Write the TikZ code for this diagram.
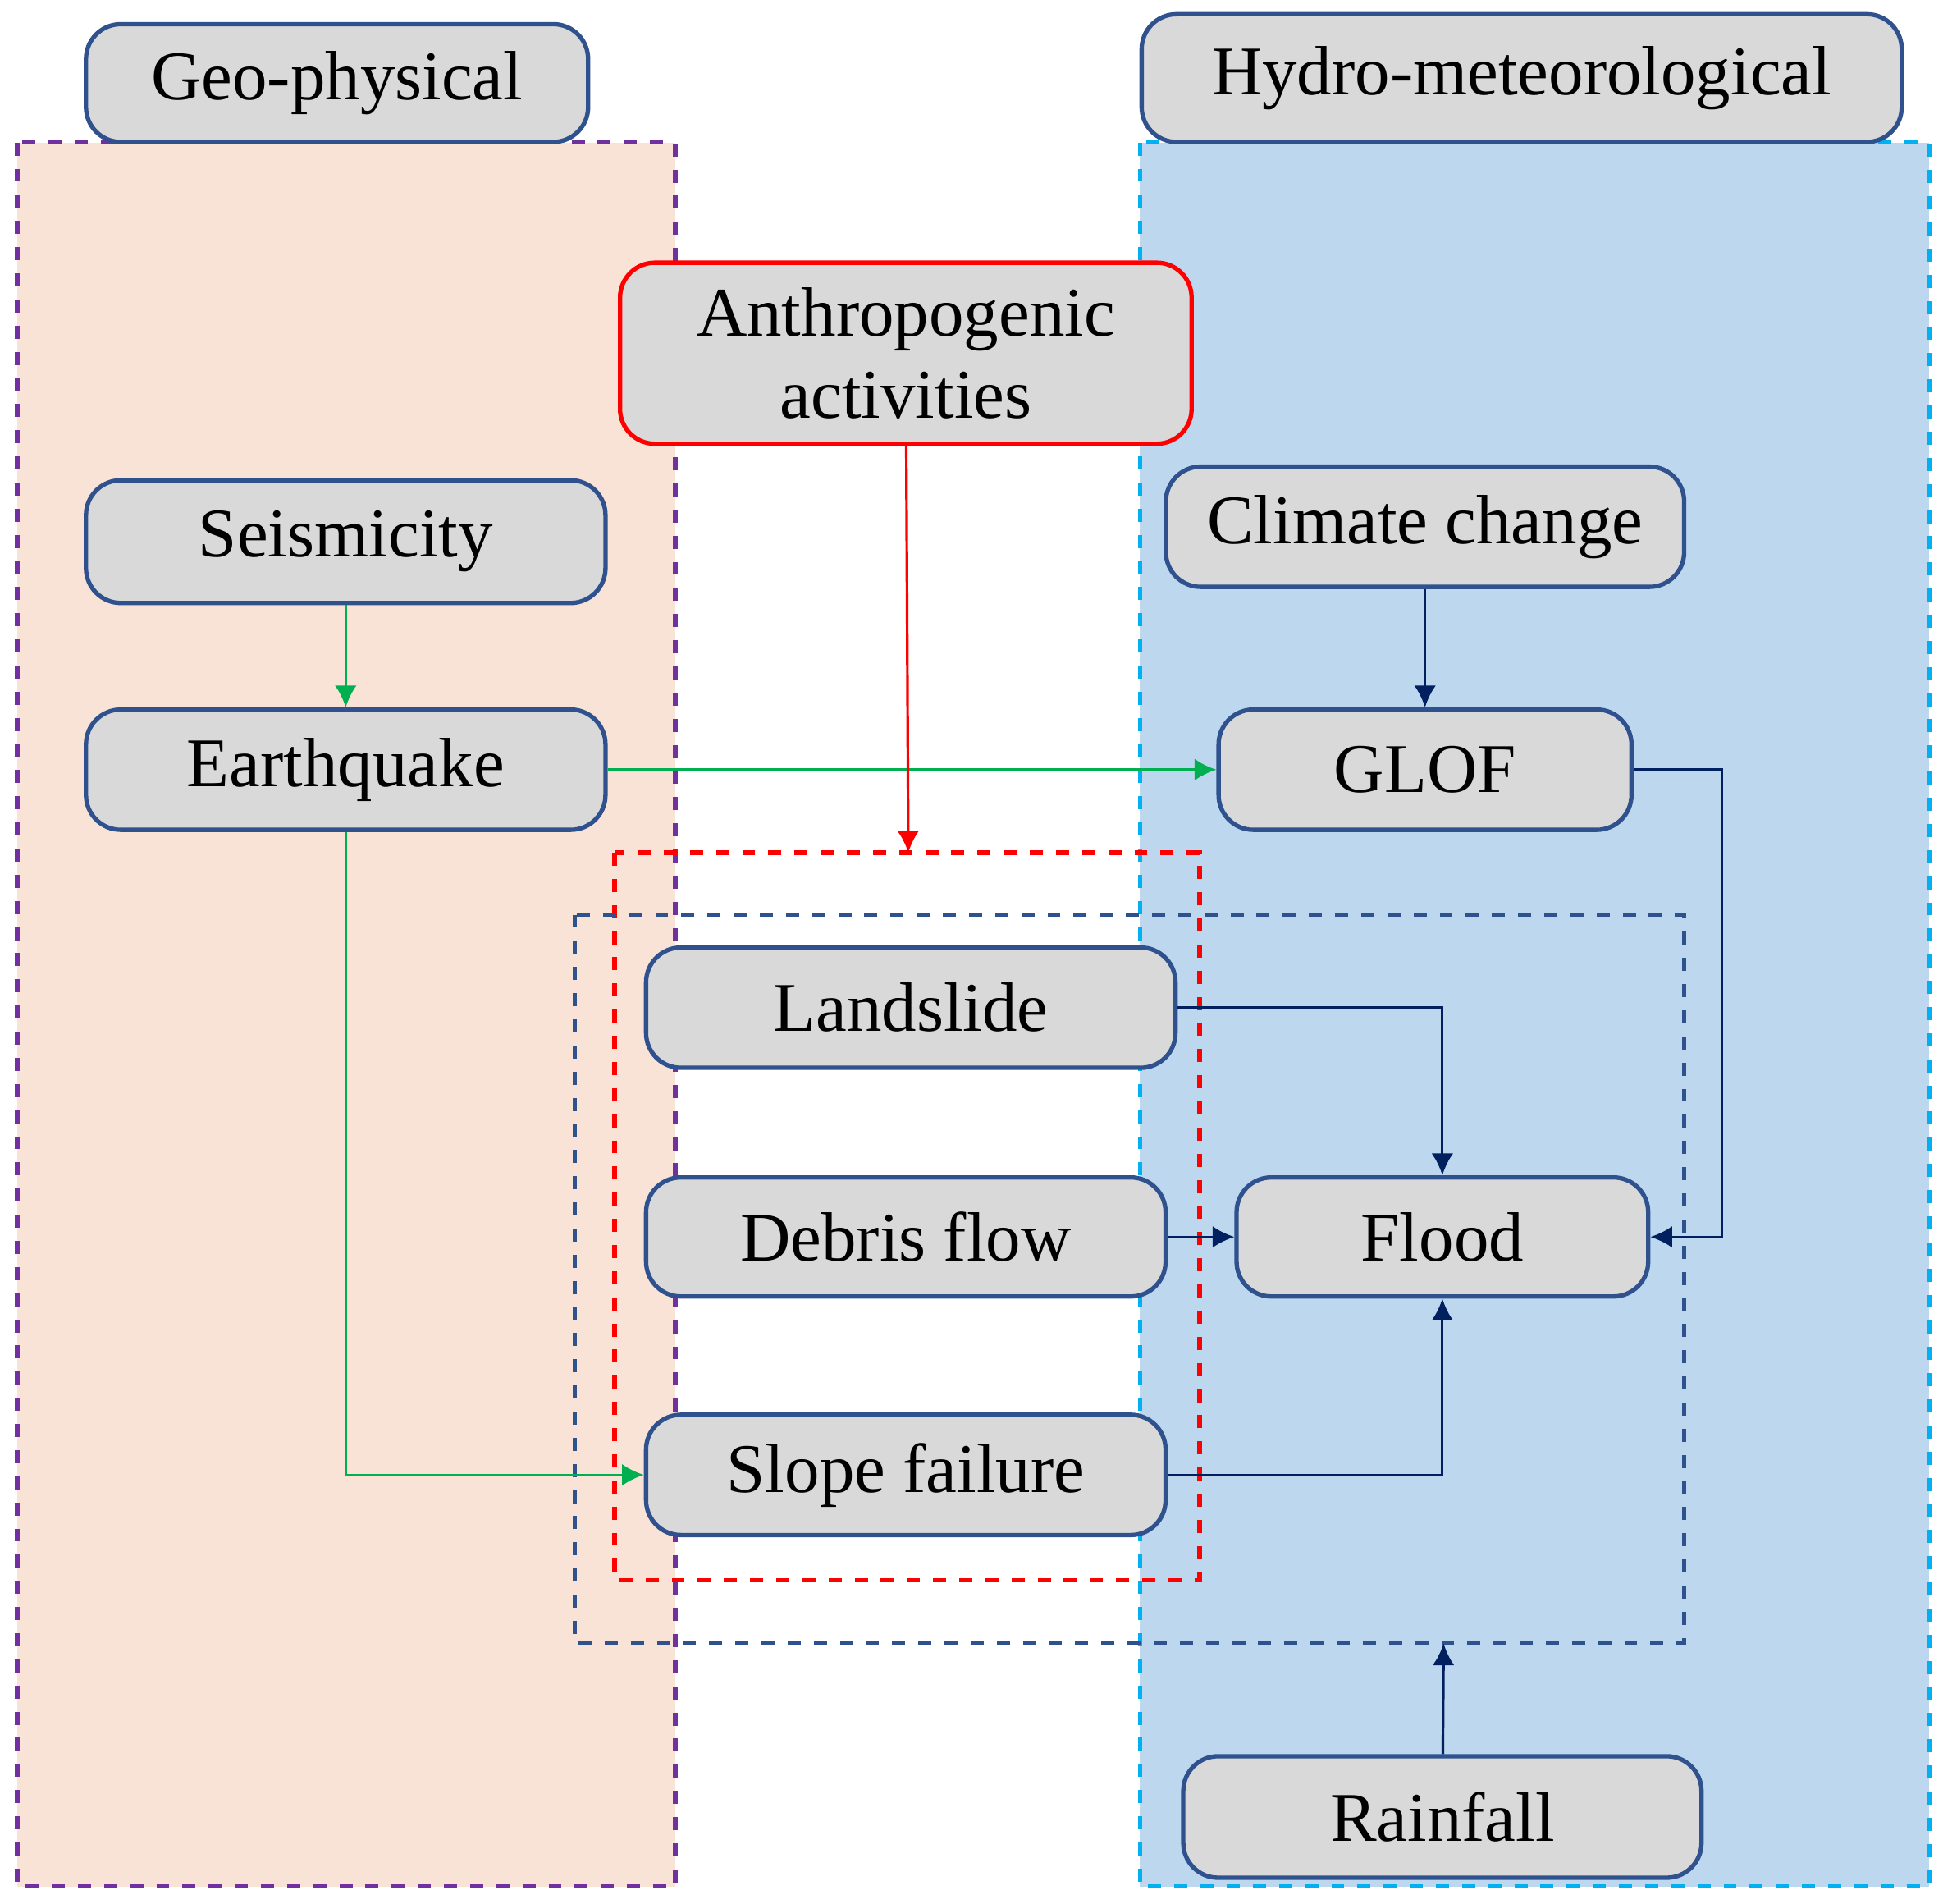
\documentclass[tikz,border=0pt]{standalone}
\usepackage{fontspec}
\setmainfont{Liberation Serif}
\usetikzlibrary{arrows.meta}
\definecolor{boxline}{RGB}{47,82,143}
\definecolor{boxfill}{RGB}{217,217,217}
\definecolor{peach}{RGB}{249,227,214}
\definecolor{skyblue}{RGB}{189,215,238}
\definecolor{geoline}{RGB}{112,48,160}
\definecolor{hydroline}{RGB}{0,176,240}
\definecolor{navy}{RGB}{0,32,96}
\definecolor{quakegreen}{RGB}{0,176,80}
\tikzset{
  box/.style={draw=boxline, fill=boxfill, rounded corners=8pt, line width=1pt,
    inner sep=0pt, align=center, font=\fontsize{16}{19}\selectfont},
  zone/.style={dashed, line width=1pt},
  tip/.style={-{Latex[length=5pt,width=5pt]}, line width=0.6pt}
}
\begin{document}
\begin{tikzpicture}[x=0.01cm, y=-0.01cm]
    \useasboundingbox (0,0) rectangle (1568,1536);

    % regions
    \fill[peach] (14,115) rectangle (545,1522);
    \fill[skyblue] (920,115) rectangle (1557,1522);
    \draw[zone, draw=geoline] (14,115) rectangle (545,1522);
    \draw[zone, draw=hydroline] (920,115) rectangle (1557,1522);
    \draw[zone, draw=red] (496,688) rectangle (968,1275);
    \draw[zone, draw=boxline] (464,738) rectangle (1359,1326);
    \coordinate (redtop) at (733,688);
    \coordinate (bluebot) at (1165,1326);

    % nodes
    \node (geo) at (272,67) [box, minimum width=4.05cm, minimum height=0.95cm] {Geo-physical};
    \node (hydro) at (1228,63) [box, minimum width=6.13cm, minimum height=1.03cm] {Hydro-meteorological};
    \node (anthro) at (731,285) [box, draw=red, minimum width=4.61cm, minimum height=1.46cm] {Anthropogenic\\activities};
    \node (seis) at (279,437) [box, minimum width=4.19cm, minimum height=0.99cm] {Seismicity};
    \node (climate) at (1150,425) [box, minimum width=4.18cm, minimum height=0.97cm] {Climate change};
    \node (quake) at (279,621) [box, minimum width=4.19cm, minimum height=0.97cm] {Earthquake};
    \node (glof) at (1150,621) [box, minimum width=3.33cm, minimum height=0.97cm] {GLOF};
    \node (land) at (735,813) [box, minimum width=4.27cm, minimum height=0.97cm] {Landslide};
    \node (debris) at (731,998) [box, minimum width=4.19cm, minimum height=0.96cm] {Debris flow};
    \node (flood) at (1164,998) [box, minimum width=3.32cm, minimum height=0.96cm] {Flood};
    \node (slope) at (731,1190) [box, minimum width=4.19cm, minimum height=0.97cm] {Slope failure};
    \node (rain) at (1164,1466) [box, minimum width=4.18cm, minimum height=0.98cm] {Rainfall};

    % links
    \draw[tip, quakegreen] (seis) -- (quake);
    \draw[tip, quakegreen] (quake) -- (glof);
    \draw[tip, quakegreen] (quake) |- (slope);
    \draw[tip, red] (anthro) -- (redtop);
    \draw[tip, navy] (climate) -- (glof);
    \draw[tip, navy] (glof.east) -- ++(71,0) |- (flood.east);
    \draw[tip, navy] (land.east) -| (flood.north);
    \draw[tip, navy] (debris) -- (flood);
    \draw[tip, navy] (slope.east) -| (flood.south);
    \draw[tip, navy] (rain) -- (bluebot);
\end{tikzpicture}
\end{document}
